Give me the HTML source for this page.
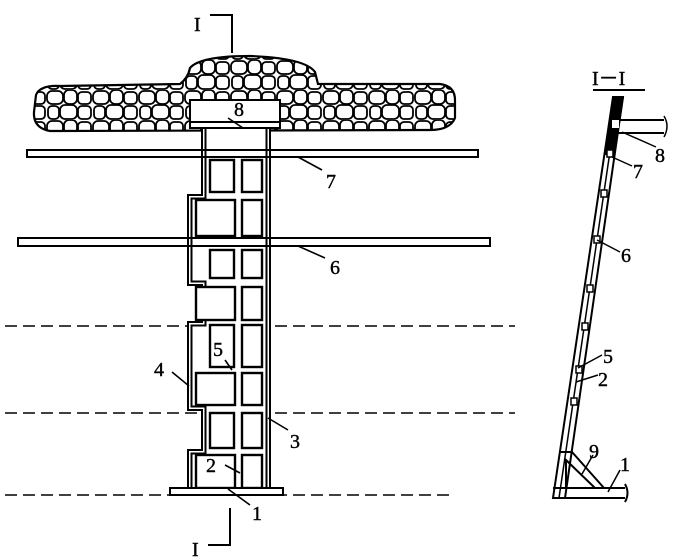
<!DOCTYPE html>
<html><head><meta charset="utf-8"><style>
html,body{margin:0;padding:0;background:#fff;}
svg{display:block;}
text{font-family:"Liberation Serif",serif;font-size:20px;fill:#000;stroke:#000;stroke-width:0.4;}
</style></head><body>
<svg width="685" height="560" viewBox="0 0 685 560" xmlns="http://www.w3.org/2000/svg">
<defs>
<pattern id="stones" width="46" height="30" patternUnits="userSpaceOnUse">
<rect width="46" height="30" fill="#fff"/>
<g fill="#fff" stroke="#000" stroke-width="1.8">
<rect x="1" y="1" width="16" height="13" rx="5"/>
<rect x="18" y="0" width="13" height="14" rx="5"/>
<rect x="32" y="2" width="13" height="12" rx="4"/>
<rect x="2" y="16" width="11" height="13" rx="4"/>
<rect x="14" y="15" width="17" height="14" rx="5"/>
<rect x="32" y="16" width="13" height="13" rx="4"/>
</g>
</pattern>
</defs>

<path d="M36,95 Q40,85 60,86 L180,84 Q188,78 190,68 Q200,56 250,56 Q305,58 315,72 L318,84 L440,84 Q455,86 455,100 L455,118 Q450,130 430,130 L50,131 Q33,128 34,112 Z" fill="url(#stones)" stroke="#000" stroke-width="2.2"/>

<g stroke="#000" stroke-width="1.5" stroke-dasharray="12,6">
<line x1="5" y1="326" x2="515" y2="326"/>
<line x1="5" y1="413" x2="515" y2="413"/>
<line x1="5" y1="495" x2="455" y2="495"/>
</g>

<rect x="27" y="150" width="451" height="7" fill="#fff" stroke="#000" stroke-width="2"/>
<rect x="18" y="238" width="472" height="8" fill="#fff" stroke="#000" stroke-width="2"/>

<path d="M202,128 V195 H188 V285 H202 V322 H188 V410 H202 V450 H188 V488 H270 V128 Z" fill="#fff" stroke="#000" stroke-width="2"/>
<path d="M205.5,128 V198.5 H191.5 V281.5 H205.5 V325.5 H191.5 V406.5 H205.5 V453.5 H191.5 V488 M266.5,128 V488" fill="none" stroke="#000" stroke-width="2"/>
<g stroke="#000" stroke-width="2">
<line x1="188" y1="150" x2="270" y2="150"/><line x1="188" y1="157" x2="270" y2="157"/>
<line x1="188" y1="238" x2="270" y2="238"/><line x1="188" y1="246" x2="270" y2="246"/>
</g>
<g fill="#fff" stroke="#000" stroke-width="2.4">
<rect x="210" y="160" width="24" height="32"/><rect x="242" y="160" width="20" height="32"/>
<rect x="196" y="200" width="39" height="36" /><rect x="242" y="200" width="20" height="36"/>
<rect x="210" y="250" width="24" height="28"/><rect x="242" y="250" width="20" height="28"/>
<rect x="196" y="287" width="39" height="33"/><rect x="242" y="287" width="20" height="33"/>
<rect x="210" y="325" width="24" height="42"/><rect x="242" y="325" width="20" height="42"/>
<rect x="196" y="373" width="39" height="32"/><rect x="242" y="373" width="20" height="32"/>
<rect x="210" y="413" width="24" height="35"/><rect x="242" y="413" width="20" height="35"/>
<rect x="196" y="455" width="39" height="33"/><rect x="242" y="455" width="20" height="33"/>
</g>
<rect x="170" y="488" width="113" height="7" fill="#fff" stroke="#000" stroke-width="2"/>
<rect x="190" y="100" width="90" height="22" fill="#fff" stroke="#000" stroke-width="2"/>
<rect x="190" y="122" width="90" height="6" fill="#fff" stroke="#000" stroke-width="2"/>

<g stroke="#000" stroke-width="2" fill="none">
<path d="M210,15 L232,15 L232,53"/>
<path d="M230,508 L230,545 L208,545"/>
</g>
<text x="194" y="31" font-size="22">I</text>
<text x="192" y="556" font-size="22">I</text>

<g stroke="#000" stroke-width="1.6">
<line x1="228" y1="118" x2="243" y2="128"/>
<line x1="298" y1="157" x2="322" y2="170"/>
<line x1="298" y1="246" x2="325" y2="258"/>
<line x1="225" y1="360" x2="232" y2="370"/>
<line x1="172" y1="372" x2="189" y2="386"/>
<line x1="268" y1="418" x2="288" y2="430"/>
<line x1="225" y1="465" x2="240" y2="473"/>
<line x1="228" y1="489" x2="250" y2="505"/>
</g>
<text x="234" y="116">8</text>
<text x="326" y="188">7</text>
<text x="330" y="274">6</text>
<text x="213" y="356">5</text>
<text x="154" y="376">4</text>
<text x="290" y="448">3</text>
<text x="206" y="472">2</text>
<text x="252" y="520">1</text>

<text x="592" y="85" font-size="20">I－I</text>
<line x1="593" y1="90" x2="645" y2="90" stroke="#000" stroke-width="2"/>
<path d="M615,120 L664,120 M615,133 L664,133" stroke="#000" stroke-width="2"/>
<path d="M664,116 Q670,126 664,137" stroke="#000" stroke-width="1.5" fill="none"/>
<polygon points="613,97 623,97 565,498 553,498" fill="#fff" stroke="#000" stroke-width="2"/>
<line x1="618" y1="97" x2="559" y2="498" stroke="#000" stroke-width="1.5"/>
<polygon points="613,97 624,97 615,155 605,155" fill="#000"/>
<rect x="612" y="120" width="7" height="8" fill="#fff"/>
<g fill="#fff" stroke="#000" stroke-width="1.5">
<rect x="607" y="150" width="6" height="7"/>
<rect x="601" y="190" width="6" height="7"/>
<rect x="594" y="236" width="6" height="7"/>
<rect x="587" y="285" width="6" height="7"/>
<rect x="582" y="323" width="6" height="7"/>
<rect x="576" y="366" width="6" height="7"/>
<rect x="571" y="398" width="6" height="7"/>
</g>
<g stroke="#000" stroke-width="2" fill="none">
<path d="M553,488 L625,488 M553,498 L625,498"/>
<path d="M560,452 L572,452 L604,488"/>
<path d="M566,460 L595,488 L566,488 Z"/>
<path d="M625,484 Q630,493 625,502"/>
</g>
<g stroke="#000" stroke-width="1.5">
<line x1="622" y1="132" x2="656" y2="147"/>
<line x1="612" y1="157" x2="632" y2="166"/>
<line x1="597" y1="240" x2="620" y2="252"/>
<line x1="578" y1="368" x2="602" y2="355"/>
<line x1="576" y1="382" x2="598" y2="375"/>
<line x1="582" y1="474" x2="593" y2="455"/>
<line x1="608" y1="492" x2="620" y2="470"/>
</g>
<text x="655" y="162">8</text>
<text x="633" y="178">7</text>
<text x="621" y="262">6</text>
<text x="603" y="363">5</text>
<text x="598" y="386">2</text>
<text x="589" y="458">9</text>
<text x="620" y="471">1</text>
</svg>
</body></html>
